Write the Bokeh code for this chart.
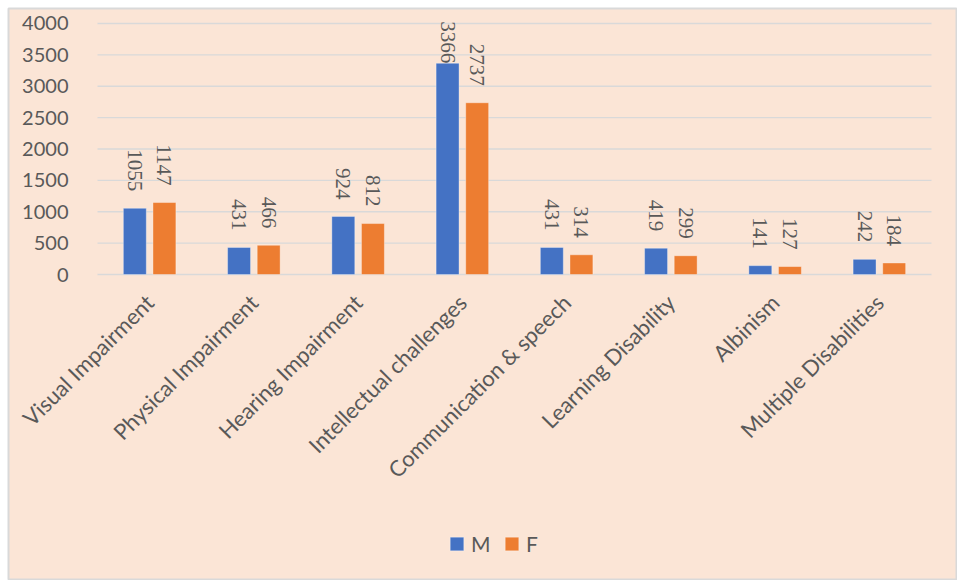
import math
from bokeh.plotting import figure
from bokeh.models import Range1d, ColumnDataSource, Legend, LegendItem, FixedTicker
from bokeh.embed import file_html
from bokeh.resources import INLINE

categories = ["Visual Impairment", "Physical Impairment", "Hearing Impairment",
              "Intellectual challenges", "Communication & speech", "Learning Disability",
              "Albinism", "Multiple Disabilities"]
male = [1055, 431, 924, 3366, 431, 419, 141, 242]
female = [1147, 466, 812, 2737, 314, 299, 127, 184]
y_ticks = [0, 500, 1000, 1500, 2000, 2500, 3000, 3500, 4000]

BG = "#FBE5D6"
GRID = "#D9D9D9"
TXT = "#595959"
FONT = "Lato"
BLUE = "#4472C4"
ORANGE = "#ED7D31"
DODGE = 0.142
BAR_W = 0.22

n = len(categories)
centers = [i + 0.5 for i in range(n)]

def offsets(vals):
    return [0 if v > 3000 else -17 for v in vals]

src = ColumnDataSource(data=dict(
    xm=[c - DODGE for c in centers], xf=[c + DODGE for c in centers],
    m=male, f=female,
    m_lab=[str(v) for v in male], f_lab=[str(v) for v in female],
    m_off=offsets(male), f_off=offsets(female)))

# the plotting frame covers the whole chart area; axes sit at fixed positions inside it
p = figure(x_range=Range1d(-0.8537, n + 0.2494), y_range=Range1d(-4876, 4239),
           width=957, height=580, output_backend="svg", toolbar_location=None,
           min_border_left=8, min_border_right=0, min_border_top=8, min_border_bottom=0)
p.background_fill_color = BG
p.border_fill_color = "white"
p.outline_line_color = GRID
p.outline_line_width = 2

# horizontal gridlines only across the category band
p.segment(x0=0, x1=n, y0=y_ticks, y1=y_ticks, line_color=GRID, line_width=1.3)

rm = p.vbar(x="xm", top="m", width=BAR_W, bottom=0, source=src,
            fill_color=BLUE, line_color="white", line_alpha=0.35, line_width=1)
rf = p.vbar(x="xf", top="f", width=BAR_W, bottom=0, source=src,
            fill_color=ORANGE, line_color="white", line_alpha=0.35, line_width=1)

for xcol, col, lab, off in (("xm", "m", "m_lab", "m_off"), ("xf", "f", "f_lab", "f_off")):
    p.text(x=xcol, y=col, text=lab, source=src,
           angle=-math.pi / 2, text_align="right", text_baseline="middle",
           y_offset=off, text_font=FONT, text_font_size="21px", text_color=TXT)

p.yaxis.fixed_location = 0
p.yaxis.ticker = FixedTicker(ticks=y_ticks)
p.yaxis.axis_line_color = None
p.yaxis.major_tick_line_color = None
p.yaxis.minor_tick_line_color = None
p.yaxis.major_label_standoff = 23
p.yaxis.major_label_text_font = FONT
p.yaxis.major_label_text_font_size = "20px"
p.yaxis.major_label_text_color = TXT

p.xaxis.fixed_location = 0
p.xaxis.ticker = FixedTicker(ticks=centers)
p.xaxis.major_label_overrides = {c: name for c, name in zip(centers, categories)}
p.xaxis.axis_line_color = None
p.xaxis.major_tick_line_color = None
p.xaxis.minor_tick_line_color = None
p.xaxis.major_label_orientation = math.pi / 4
p.xaxis.major_label_standoff = 18
p.xaxis.major_label_text_font = FONT
p.xaxis.major_label_text_font_size = "22px"
p.xaxis.major_label_text_color = TXT

p.xgrid.grid_line_color = None
p.ygrid.grid_line_color = None

legend = Legend(items=[LegendItem(label="M", renderers=[rm]), LegendItem(label="F", renderers=[rf])],
                orientation="horizontal", location=(440, 24),
                glyph_width=17, glyph_height=17, label_height=14, label_standoff=6,
                spacing=12, padding=0, margin=0,
                label_text_font=FONT, label_text_font_size="21px", label_text_color=TXT,
                border_line_color=None, background_fill_alpha=0)
p.add_layout(legend, "center")

open("out.html", "w").write(file_html(p, INLINE))
